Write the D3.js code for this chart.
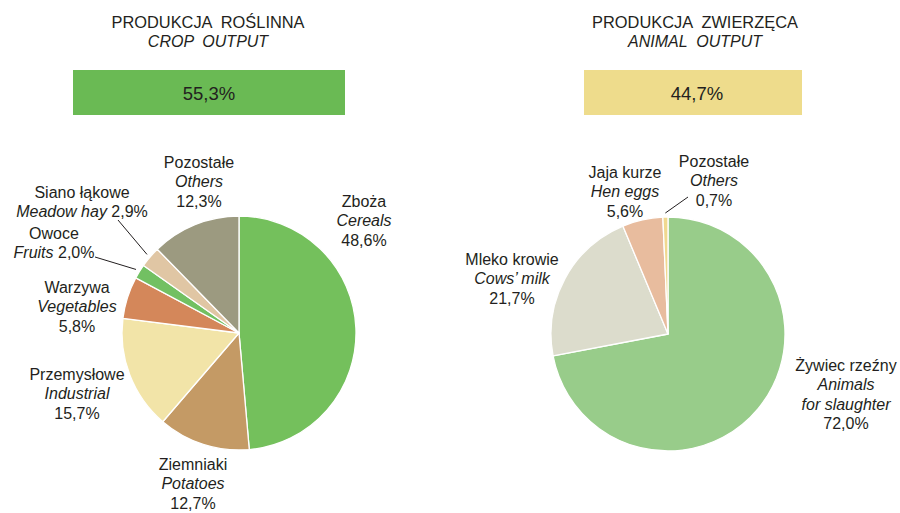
<!DOCTYPE html>
<html>
<head>
<meta charset="utf-8">
<script src="https://cdn.jsdelivr.net/npm/d3@7"></script>
<style>
    body { margin: 0; background: #fff; }
    svg text { font-family: "Liberation Sans", Arial, sans-serif; fill: #231f20; }
</style>
</head>
<body>
<svg id="chart" width="900" height="513"></svg>
<script>
// values
const titlesPl = ['PRODUKCJA  ROŚLINNA', 'PRODUKCJA  ZWIERZĘCA'];
const titlesEn = ['CROP  OUTPUT', 'ANIMAL  OUTPUT'];
const shares = [55.3, 44.7];

const cropNamesPl = ['Zboża', 'Ziemniaki', 'Przemysłowe', 'Warzywa', 'Owoce', 'Siano łąkowe', 'Pozostałe'];
const cropNamesEn = ['Cereals', 'Potatoes', 'Industrial', 'Vegetables', 'Fruits', 'Meadow hay', 'Others'];
const cropValues = [48.6, 12.7, 15.7, 5.8, 2.0, 2.9, 12.3];
const cropColors = ['#74c05c', '#c49a65', '#f2e4a8', '#d4875a', '#72c062', '#e0c6a4', '#9c9a80'];

const animalNamesPl = ['Żywiec rzeźny', 'Mleko krowie', 'Jaja kurze', 'Pozostałe'];
const animalNamesEn = ['Animals\nfor slaughter', 'Cows’ milk', 'Hen eggs', 'Others'];
const animalValues = [72.0, 21.7, 5.6, 0.7];
const animalColors = ['#98cc8a', '#dcdccc', '#e8bc9e', '#f0d890'];

const shareColors = ['#6aba54', '#eedc8c'];

// label placement (inline = english name and value on one line)
const cropLabelPos = [
    {x: 364, y: 207}, {x: 193, y: 470}, {x: 77, y: 380}, {x: 77, y: 293},
    {x: 54, y: 239, inline: true, lead: [95, 257]},
    {x: 82, y: 198, inline: true, lead: [118, 220]},
    {x: 199, y: 168}
];
const animalLabelPos = [
    {x: 846, y: 371}, {x: 512, y: 265}, {x: 625, y: 178},
    {x: 714, y: 167, lead: [688, 197]}
];

const fmt = (v) => d3.format('.1f')(v).replace('.', ',') + '%';
const lineH = 19.3;
const radius = 117;

const svg = d3.select('#chart');

const panels = [
    {cx: 208, boxX: 73, boxW: 272, textX: 209, centre: [239, 333]},
    {cx: 695, boxX: 584, boxW: 218, textX: 697, centre: [668, 334]}
];

panels.forEach((p, i) => {
    svg.append('text')
        .attr('x', p.cx).attr('y', 28)
        .attr('text-anchor', 'middle')
        .attr('font-size', 16.4)
        .style('white-space', 'pre')
        .text(titlesPl[i]);
    svg.append('text')
        .attr('x', p.cx).attr('y', 47)
        .attr('text-anchor', 'middle')
        .attr('font-size', 16)
        .attr('font-style', 'italic')
        .style('white-space', 'pre')
        .text(titlesEn[i]);
    svg.append('rect')
        .attr('x', p.boxX).attr('y', 70)
        .attr('width', p.boxW).attr('height', 45)
        .attr('fill', shareColors[i]);
    svg.append('text')
        .attr('x', p.textX).attr('y', 100)
        .attr('text-anchor', 'middle')
        .attr('font-size', 18.5)
        .text(fmt(shares[i]));
});

const drawPie = (centre, values, colors, namesPl, namesEn, layout) => {
    const pie = d3.pie().sort(null).value((d) => d);
    const arc = d3.arc().innerRadius(0).outerRadius(radius);
    const leadArc = d3.arc().innerRadius(radius + 4).outerRadius(radius + 4);

    const g = svg.append('g')
        .attr('transform', `translate(${centre[0]}, ${centre[1]})`);

    const arcs = pie(values);

    g.selectAll('path')
        .data(arcs)
        .enter()
            .append('path')
                .attr('d', arc)
                .attr('fill', (d, i) => colors[i])
                .attr('stroke', '#fff')
                .attr('stroke-width', 1.3)
                .attr('stroke-linejoin', 'round');

    arcs.forEach((d, i) => {
        const pos = layout[i];
        const lines = [{t: namesPl[i]}];
        const enParts = namesEn[i].split('\n');
        if (pos.inline) {
            lines.push({t: enParts[0], extra: ' ' + fmt(values[i]), italic: true});
        } else {
            enParts.forEach((t) => lines.push({t, italic: true}));
            lines.push({t: fmt(values[i])});
        }

        const text = svg.append('text')
            .attr('text-anchor', 'middle')
            .attr('font-size', 16);
        lines.forEach((l, k) => {
            const ts = text.append('tspan')
                .attr('x', pos.x)
                .attr('y', pos.y + k * lineH);
            ts.append('tspan')
                .attr('font-style', l.italic ? 'italic' : 'normal')
                .text(l.t);
            if (l.extra) {
                ts.append('tspan').attr('font-style', 'normal').text(l.extra);
            }
        });

        if (pos.lead) {
            const c = leadArc.centroid(d);
            svg.append('line')
                .attr('x1', pos.lead[0]).attr('y1', pos.lead[1])
                .attr('x2', centre[0] + c[0]).attr('y2', centre[1] + c[1])
                .attr('stroke', '#231f20')
                .attr('stroke-width', 1);
        }
    });
};

drawPie(panels[0].centre, cropValues, cropColors, cropNamesPl, cropNamesEn, cropLabelPos);
drawPie(panels[1].centre, animalValues, animalColors, animalNamesPl, animalNamesEn, animalLabelPos);
</script>
</body>
</html>
